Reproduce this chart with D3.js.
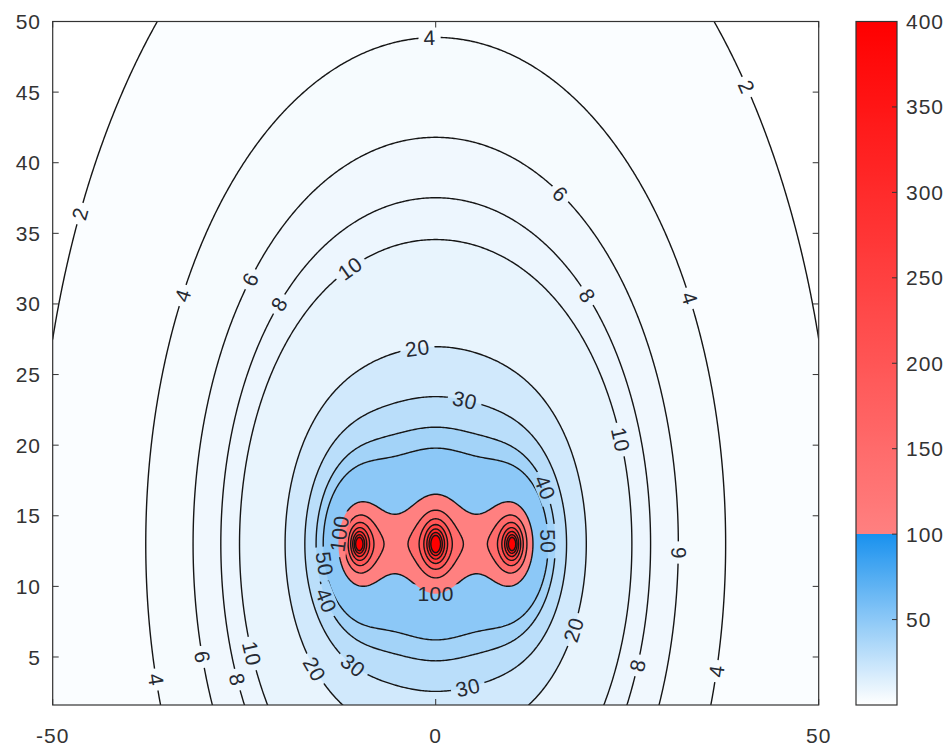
<!DOCTYPE html>
<html><head><meta charset="utf-8">
<script src="https://cdn.jsdelivr.net/npm/d3@7"></script>
<style>body{margin:0;background:#fff} text{font-family:"Liberation Sans",Arial,sans-serif}</style>
</head><body><svg id="c" width="952" height="749"></svg>
<script>
// ---------- data ----------
const levels = [2,4,6,8,10,20,30,40,50,100,150,200,250,300,350,400];
const sourceX = [-10,0,10];
const sourceY = [13,13,13];
const xTicks = [-50,0,50];
const yTicks = [5,10,15,20,25,30,35,40,45,50];
const cbTicks = [50,100,150,200,250,300,350,400];
// contour crossings: level, x, y
const readLevel = [50,40,30,20,10,8,6,4, 50,40,30, 10,8,6,4, 4,6,10,8, 2,2,2,2, 4,4, 50,40,50,40];
const readX =     [0,0,0,0,0,0,0,0, 0,0,0, 25.4,28,31.7,38, -38.2,-31.7,-25.4,-28, -50,-36.9,36.9,50, -36.4,36.8, 14.3,15.7,-14.3,-15.7];
const readY =     [19.65,21.3,23.2,26.6,33.5,36.3,42,48.5, 6.3,4.8,2.7, 13.8,13.8,13.8,13.8, 13,13,13.8,13.8, 30.7,50,50,30.5, 1.6,1.6, 13,13,13,13];
// outline of the pink (100) region
const lobeX = [-12.1,12.3,-10,10,-10,10,0,0,5,-5,5,-5];
const lobeY = [13,13,16.3,16.3,9.9,9.9,16.4,9.9,15.05,15.05,10.95,10.95];
// rings inside the pink lobes: level, x, y
const ringLevel = [150,150,150,150,150,150,150,150,150,150,150,150, 200,200,200,200,200,200,200,200,200,200, 300,300,300,300,300,300,300,300, 400,400,400,400,400,400,400,400];
const ringX = [3,-3,0,0,11.7,-11.7,6.8,-6.8,10,10,-10,-10, 0,0,2.3,-2.3,10,-10,10,-10,11.3,-11.3, 0,0,1.3,-1.3,10,-10,11,-11, 0,0,0.45,-0.45,10,-10,10.45,-10.45];
const ringY = [13,13,15.65,10.35,13,13,13,13,15.6,10.4,15.6,10.4, 15.1,10.9,13,13,15.1,15.1,10.9,10.9,13,13, 14.2,11.8,13,13,14.2,14.2,13,13, 13.55,12.45,13,13,13.55,13.55,13,13];
// inline contour labels: level and approximate place
const labelLevel = [4,2,2,6,8,4,10,8,6,4,20,30,10,40,50,100,6,8,4,20,30,30,20,10,6,8,4,40,50,100];
const labelX = [-0.75,40.4,-47.5,15.9,19.3,35.2,-11.2,-20.3,-24.5,-32.6,-2.3,3.8,23.4,13.6,14.3,0,31.8,26.4,37.1,17.8,4.2,-11.2,-16,-25.5,-31,-26.6,-37,-14.4,-14.8,-12.1];
const labelY = [48.55,45.3,36.6,37.6,30.4,30.8,32.5,29.9,31.8,30.5,26.6,23.2,20.4,16.8,13.1,10.1,12.3,4.3,3.9,6.9,2.65,4.2,4.1,5.1,4.9,3.2,3.3,9.0,11.5,13.7];

// ---------- layout ----------
const L=52.7, R=818.7, T=21.5, B=705;
const CBL=856, CBR=897;
const xS = d3.scaleLinear([-50,50],[L,R]);
const yS = d3.scaleLinear([1.6,50],[B,T]);
const cS = d3.scaleLinear([0,400],[B,T]);
const svg = d3.select("#c");
const axisColor="#333";
const fontSize=21;

// ---------- field model fitted to the readings ----------
const segX0=d3.min(sourceX), segX1=d3.max(sourceX), segY=d3.mean(sourceY);
function fieldP(q,x,y){
  const lam=Math.exp(q[0]), cs2=Math.exp(q[1]);
  const A=Math.exp(q[2]), kx=Math.exp(q[3]), c2=Math.exp(q[4]);
  const N=Math.exp(q[5]), Rc=Math.exp(q[6]), ga=Math.exp(q[7]);
  const ddy=y-segY, a=Math.sqrt(ddy*ddy+cs2);
  let v=lam/a*(Math.atan((x-segX0)/a)-Math.atan((x-segX1)/a));
  for(let i=0;i<sourceX.length;i++){
    const dx=x-sourceX[i], dy=y-sourceY[i];
    v += A/(kx*dx*dx+dy*dy+c2);
    const rho=Math.sqrt(dx*dx+dy*dy);
    if(rho<Rc) v += N*Math.pow(1-rho/Rc,ga);
  }
  return v;
}
function err(q,x,y,lev,w){const d=Math.log(fieldP(q,x,y))-Math.log(lev); return w*d*d;}
function loss(q){
  let e=0;
  for(let k=0;k<readLevel.length;k++) e+=err(q,readX[k],readY[k],readLevel[k],1);
  for(let k=0;k<lobeX.length;k++) e+=err(q,lobeX[k],lobeY[k],100,3);
  for(let k=0;k<ringLevel.length;k++) e+=err(q,ringX[k],ringY[k],ringLevel[k],0.5);
  for(let k=0;k<labelLevel.length;k++) e+=err(q,labelX[k],labelY[k],labelLevel[k],0.4);
  [-5,5].forEach(x=>{const f=fieldP(q,x,13);
    if(f<115) e+=10*Math.pow(Math.log(115/f),2);
    if(f>140) e+=10*Math.pow(Math.log(f/140),2);});
  return e;
}
function nelderMead(f,x0,iters){
  const n=x0.length;
  let S=[x0.slice()];
  for(let i=0;i<n;i++){const x=x0.slice(); x[i]+=0.25; S.push(x);}
  let V=S.map(f);
  for(let it=0;it<iters;it++){
    const idx=d3.range(n+1).sort((a,b)=>V[a]-V[b]);
    S=idx.map(i=>S[i]); V=idx.map(i=>V[i]);
    const c=new Array(n).fill(0);
    for(let i=0;i<n;i++) for(let j=0;j<n;j++) c[j]+=S[i][j]/n;
    const w=S[n];
    const xr=c.map((cj,j)=>cj+(cj-w[j])); const fr=f(xr);
    if(fr<V[0]){
      const xe=c.map((cj,j)=>cj+2*(cj-w[j])); const fe=f(xe);
      if(fe<fr){S[n]=xe;V[n]=fe;} else {S[n]=xr;V[n]=fr;}
    } else if(fr<V[n-1]){S[n]=xr;V[n]=fr;}
    else {
      const xc=c.map((cj,j)=>cj+0.5*(w[j]-cj)); const fc=f(xc);
      if(fc<V[n]){S[n]=xc;V[n]=fc;}
      else { for(let i=1;i<=n;i++){S[i]=S[i].map((v,j)=>S[0][j]+0.5*(v-S[0][j])); V[i]=f(S[i]);} }
    }
  }
  const b=d3.minIndex(V); return S[b];
}
let q=[Math.log(132),Math.log(10),Math.log(880),0,Math.log(14),Math.log(290),Math.log(3.3),Math.log(0.8)];
for(let r=0;r<10;r++) q=nelderMead(loss,q,2500);
const field=(x,y)=>fieldP(q,x,y);

// ---------- colour map ----------
const cWhite=[255,255,255], cBlue=[25,145,238], cPink=[255,128,128], cRed=[255,0,0];
function mix(a,b,t){return `rgb(${a.map((v,i)=>Math.round(v+(b[i]-v)*t)).join(",")})`;}
function cmap(v){
  if(v<100) return mix(cWhite,cBlue,Math.max(0,v)/100);
  return mix(cPink,cRed,Math.min(1,(v-100)/300));
}

// ---------- grid & contours ----------
const nx=501, ny=243, gx0=-50, gdx=0.2, gy0=1.6, gdy=0.2;
const vals=new Float64Array(nx*ny);
for(let j=0;j<ny;j++) for(let i=0;i<nx;i++) vals[j*nx+i]=field(gx0+i*gdx,gy0+j*gdy);
const contours=d3.contours().size([nx,ny]).thresholds(levels)(vals);
const gxToPx=c=>xS(gx0+(c-0.5)*gdx), gyToPx=r=>yS(gy0+(r-0.5)*gdy);
const proj=d3.geoTransform({point:function(c,r){this.stream.point(gxToPx(c),gyToPx(r));}});
const path=d3.geoPath(proj);

const defs=svg.append("defs");
defs.append("clipPath").attr("id","plotclip").append("rect").attr("x",L).attr("y",T).attr("width",R-L).attr("height",B-T);

const plot=svg.append("g").attr("clip-path","url(#plotclip)");
plot.append("rect").attr("x",L).attr("y",T).attr("width",R-L).attr("height",B-T).attr("fill","#fff");
plot.append("g").selectAll("path").data(contours).join("path")
  .attr("d",path).attr("fill",d=>cmap(d.value)).attr("stroke","none");

// ---------- labels ----------
const rings=contours.map(c=>c.coordinates.flatMap(poly=>poly.map(ring=>ring.map(p=>[gxToPx(p[0]),gyToPx(p[1])]))));
const labG=svg.append("g");
const mask=defs.append("mask").attr("id","lblmask").attr("maskUnits","userSpaceOnUse")
  .attr("x",0).attr("y",0).attr("width",952).attr("height",749);
mask.append("rect").attr("x",0).attr("y",0).attr("width",952).attr("height",749).attr("fill","#fff");
labelLevel.forEach((lev,k)=>{
  const li=levels.indexOf(lev);
  const tx=xS(labelX[k]), ty=yS(labelY[k]);
  let best=null,bd=1e18;
  rings[li].forEach(ring=>{
    for(let i=0;i<ring.length;i++){
      const p=ring[i]; if(p[0]<L+6||p[0]>R-6||p[1]<T+6||p[1]>B-6) continue;
      const d=(p[0]-tx)**2+(p[1]-ty)**2;
      if(d<bd){bd=d;best={ring,i};}
    }
  });
  if(!best) return;
  const rg=best.ring, n=rg.length, i=best.i;
  const a=rg[(i-3+n)%n], b=rg[(i+3)%n], p=rg[i];
  let ang=Math.atan2(b[1]-a[1],b[0]-a[0])*180/Math.PI;
  if(ang>90) ang-=180; if(ang<-90) ang+=180;
  const t=labG.append("text").attr("transform",`translate(${p[0]},${p[1]}) rotate(${ang})`)
    .attr("text-anchor","middle").attr("dy","0.36em").attr("font-size",fontSize).attr("letter-spacing","0.5px").attr("fill","#262a33").text(lev);
  const w=t.node().getComputedTextLength()+10;
  mask.append("rect").attr("x",-w/2).attr("y",-fontSize*0.45).attr("width",w).attr("height",fontSize*0.9)
    .attr("fill","#000").attr("transform",`translate(${p[0]},${p[1]}) rotate(${ang})`);
});
plot.append("g").attr("mask","url(#lblmask)").selectAll("path").data(contours).join("path")
  .attr("d",path).attr("fill","none").attr("stroke","#161616").attr("stroke-width",1.4).attr("stroke-linejoin","round");
labG.raise();

// ---------- axes ----------
const ax=svg.append("g");
ax.append("rect").attr("x",L).attr("y",T).attr("width",R-L).attr("height",B-T).attr("fill","none").attr("stroke",axisColor).attr("stroke-width",1.2);
const tl=6;
xTicks.forEach(v=>{
  const x=xS(v);
  ax.append("line").attr("x1",x).attr("x2",x).attr("y1",B).attr("y2",B-tl).attr("stroke",axisColor);
  ax.append("line").attr("x1",x).attr("x2",x).attr("y1",T).attr("y2",T+tl).attr("stroke",axisColor);
  ax.append("text").attr("x",x).attr("y",743).attr("text-anchor","middle").attr("font-size",fontSize).attr("letter-spacing","1px").attr("fill",axisColor).text(v);
});
yTicks.forEach(v=>{
  const y=yS(v);
  ax.append("line").attr("x1",L).attr("x2",L+tl).attr("y1",y).attr("y2",y).attr("stroke",axisColor);
  ax.append("line").attr("x1",R).attr("x2",R-tl).attr("y1",y).attr("y2",y).attr("stroke",axisColor);
  ax.append("text").attr("x",41).attr("y",y).attr("dy","0.36em").attr("text-anchor","end").attr("font-size",fontSize).attr("letter-spacing","1px").attr("fill",axisColor).text(v);
});

// ---------- colorbar ----------
const grad=defs.append("linearGradient").attr("id","cbgrad").attr("x1",0).attr("x2",0).attr("y1",1).attr("y2",0);
const frac=v=>(v-0)/400;
d3.range(0,101,5).forEach(v=>grad.append("stop").attr("offset",frac(v)).attr("stop-color",cmap(Math.min(v,99.999))));
d3.range(100,401,10).forEach(v=>grad.append("stop").attr("offset",frac(v)).attr("stop-color",cmap(v)));
svg.append("rect").attr("x",CBL).attr("y",T).attr("width",CBR-CBL).attr("height",B-T).attr("fill","url(#cbgrad)").attr("stroke",axisColor).attr("stroke-width",1.2);
cbTicks.forEach(v=>{
  const y=cS(v);
  svg.append("line").attr("x1",CBR).attr("x2",CBR-5).attr("y1",y).attr("y2",y).attr("stroke",axisColor);
  svg.append("text").attr("x",906).attr("y",y).attr("dy","0.36em").attr("font-size",fontSize).attr("letter-spacing","1px").attr("fill",axisColor).text(v);
});
</script></body></html>
